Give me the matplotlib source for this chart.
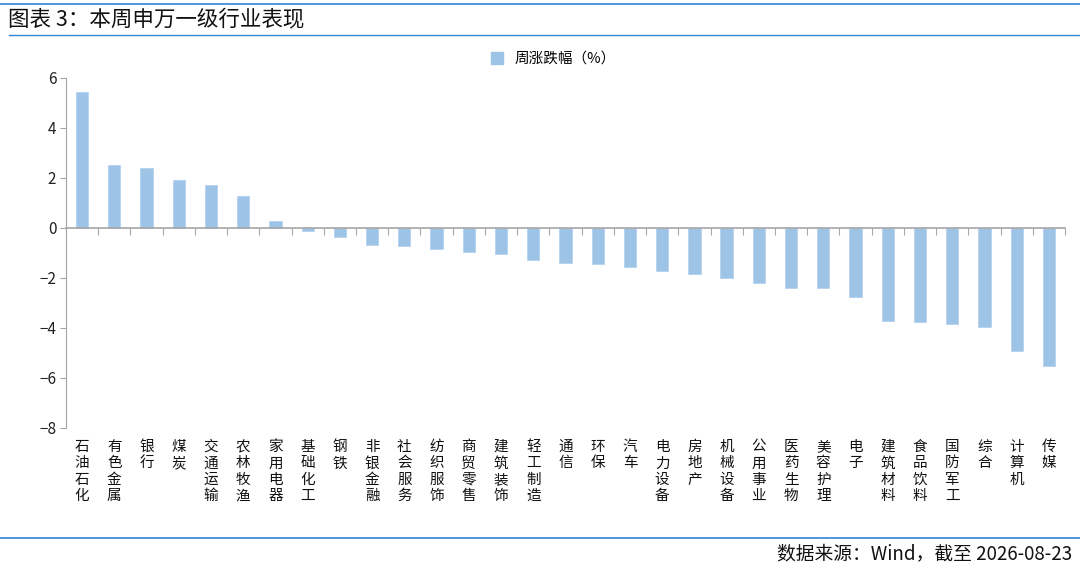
import numpy as np
import matplotlib.pyplot as plt
from matplotlib.lines import Line2D

plt.rcParams['font.family'] = ['Noto Sans CJK SC', 'DejaVu Sans']

industries = ["石油石化", "有色金属", "银行", "煤炭", "交通运输", "农林牧渔", "家用电器",
              "基础化工", "钢铁", "非银金融", "社会服务", "纺织服饰", "商贸零售", "建筑装饰",
              "轻工制造", "通信", "环保", "汽车", "电力设备", "房地产", "机械设备",
              "公用事业", "医药生物", "美容护理", "电子", "建筑材料", "食品饮料",
              "国防军工", "综合", "计算机", "传媒"]
weekly_change = [5.44, 2.52, 2.39, 1.92, 1.71, 1.28, 0.29,
                 -0.11, -0.36, -0.69, -0.72, -0.85, -0.95, -1.03,
                 -1.27, -1.40, -1.43, -1.55, -1.71, -1.83, -1.99,
                 -2.19, -2.39, -2.39, -2.77, -3.71, -3.78,
                 -3.84, -3.98, -4.94, -5.54]
yticks = [6, 4, 2, 0, -2, -4, -6, -8]

fig = plt.figure(figsize=(10.8, 5.73), dpi=100)
ax = fig.add_axes([0.0611, 0.2531, 0.925, 0.6108])

x = np.arange(len(industries))
ax.bar(x, weekly_change, width=0.38, color="#9dc3e6", edgecolor="#b4d2ee", linewidth=0.6, zorder=2)

ax.set_xlim(-0.5, len(industries) - 0.5)
ax.set_ylim(-8, 6)
ax.set_yticks(yticks)
ax.tick_params(axis='y', length=4, width=0.8, color="#a6a6a6", labelsize=11, pad=3, labelcolor="#222222")

for s in ["top", "right"]:
    ax.spines[s].set_visible(False)
ax.spines["left"].set_color("#a6a6a6")
ax.spines["bottom"].set_position(("data", 0))
ax.spines["bottom"].set_color("#a6a6a6")
ax.spines["bottom"].set_linewidth(1.2)
ax.set_xticks(np.arange(len(industries)) + 0.5)
ax.set_xticklabels([])
ax.tick_params(axis='x', length=5, width=0.8, color="#a6a6a6", direction="out")

for i, name in enumerate(industries):
    ax.text(i, -8.48, "\n".join(name), ha="center", va="top", fontsize=10.5,
            linespacing=1.22, color="#111111")

handle = Line2D([], [], marker="s", linestyle="none", markersize=8,
                markerfacecolor="#9dc3e6", markeredgecolor="#9dc3e6")
fig.legend([handle], ["周涨跌幅（%）"], loc="center", bbox_to_anchor=(0.508, 0.897),
           frameon=False, fontsize=10.5, handletextpad=0.2, borderaxespad=0)

# header and footer
fig.add_artist(Line2D([0, 1], [1 - 4 / 573, 1 - 4 / 573], color="#2f86d6", linewidth=1.2))
fig.add_artist(Line2D([0.008, 1], [1 - 35 / 573, 1 - 35 / 573], color="#2f86d6", linewidth=1.0))
fig.add_artist(Line2D([0, 1], [1 - 538 / 573, 1 - 538 / 573], color="#2f86d6", linewidth=1.2))
fig.text(0.007, 1 - 19 / 573, "图表 3：本周申万一级行业表现", fontsize=15.5, va="center", ha="left", color="#111111")
fig.text(0.993, 1 - 554 / 573, "数据来源：Wind，截至 2026-08-23", fontsize=13.5, va="center", ha="right", color="#111111")

fig.savefig("out.png", dpi=100)
